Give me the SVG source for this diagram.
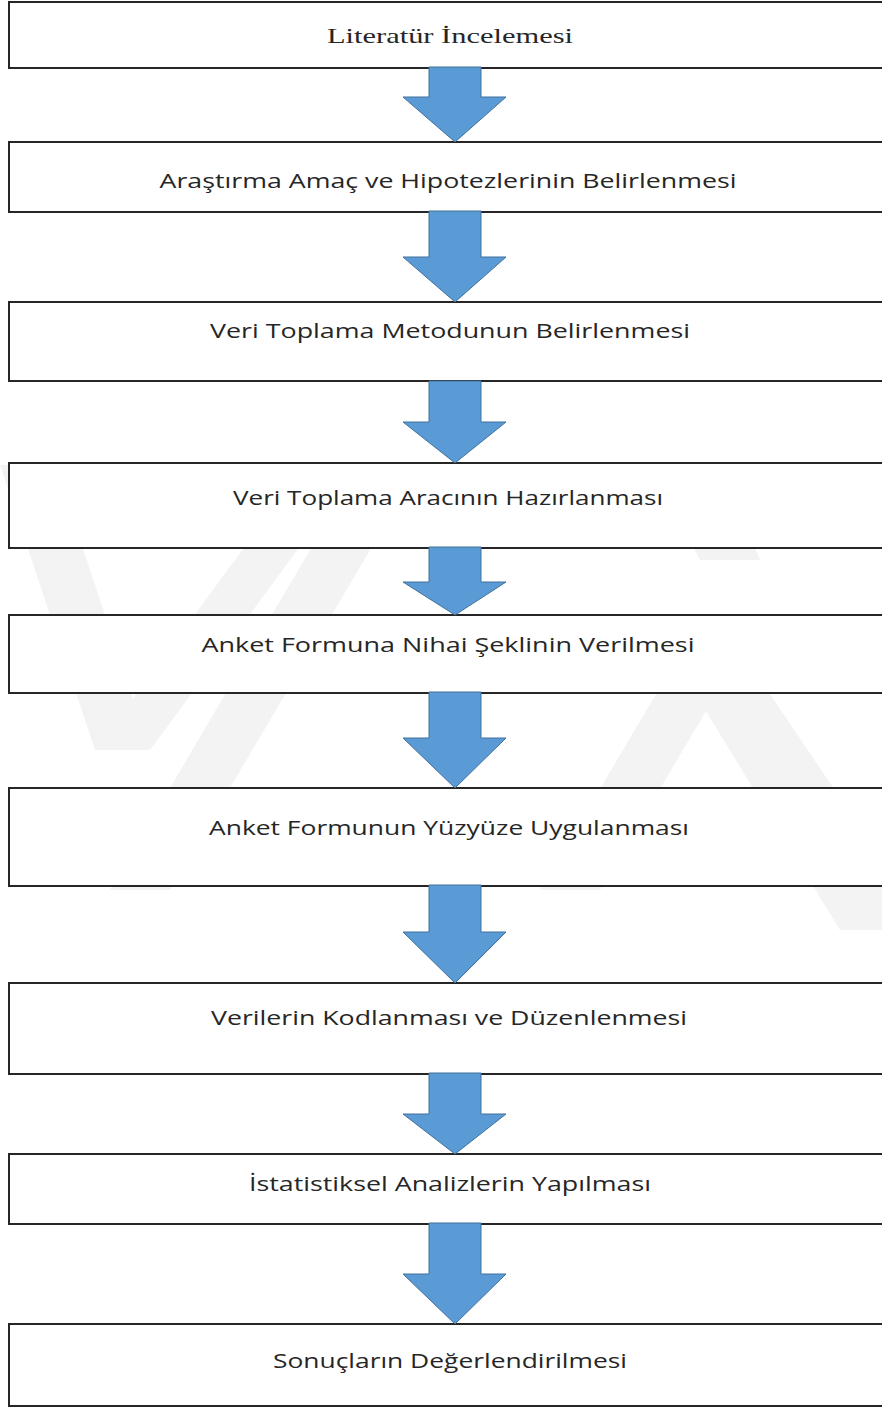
<svg xmlns="http://www.w3.org/2000/svg" width="882" height="1408" viewBox="0 0 882 1408">
<style>
.box{fill:#ffffff;stroke:#262626;stroke-width:2}
.t{font-family:"Open Sans","Noto Sans",sans-serif;font-size:20px;fill:#262626;text-anchor:middle}
.ts{font-family:"Liberation Serif","Times New Roman",serif;font-size:21px;fill:#262626;text-anchor:middle}
.arr{fill:#5b9bd5;stroke:#41719c;stroke-width:1}
.wm{fill:#f3f3f3}
</style>
<rect x="0" y="0" width="882" height="1408" fill="#ffffff"/>
<g id="watermark">
<polygon class="wm" points="0,465 55,465 150,750 95,750"/>
<polygon class="wm" points="95,750 150,750 360,465 305,465"/>
<polygon class="wm" points="110,890 170,890 420,465 360,465"/>
<polygon class="wm" points="540,890 600,890 760,620 700,620"/>
<polygon class="wm" points="650,620 720,620 882,860 882,930 840,930"/>
<polygon class="wm" points="650,465 720,465 760,560 700,560"/>
</g>
<g id="n1"><rect class="box" x="9" y="2" width="890" height="66"/><text class="ts" x="450" y="43" textLength="246" lengthAdjust="spacingAndGlyphs">Literatür  İncelemesi</text></g>
<g id="n2"><rect class="box" x="9" y="142" width="890" height="70"/><text class="t" x="448" y="188" textLength="577" lengthAdjust="spacingAndGlyphs">Araştırma Amaç ve Hipotezlerinin Belirlenmesi</text></g>
<g id="n3"><rect class="box" x="9" y="302" width="890" height="79"/><text class="t" x="450" y="338" textLength="480" lengthAdjust="spacingAndGlyphs">Veri Toplama Metodunun Belirlenmesi</text></g>
<g id="n4"><rect class="box" x="9" y="463" width="890" height="85"/><text class="t" x="448" y="505" textLength="430" lengthAdjust="spacingAndGlyphs">Veri Toplama Aracının Hazırlanması</text></g>
<g id="n5"><rect class="box" x="9" y="615" width="890" height="78"/><text class="t" x="448" y="652" textLength="493" lengthAdjust="spacingAndGlyphs">Anket Formuna Nihai Şeklinin Verilmesi</text></g>
<g id="n6"><rect class="box" x="9" y="788" width="890" height="98"/><text class="t" x="449" y="835" textLength="480" lengthAdjust="spacingAndGlyphs">Anket Formunun  Yüzyüze Uygulanması</text></g>
<g id="n7"><rect class="box" x="9" y="983" width="890" height="91"/><text class="t" x="449" y="1025" textLength="476" lengthAdjust="spacingAndGlyphs">Verilerin Kodlanması ve Düzenlenmesi</text></g>
<g id="n8"><rect class="box" x="9" y="1154" width="890" height="70"/><text class="t" x="450" y="1191" textLength="402" lengthAdjust="spacingAndGlyphs">İstatistiksel Analizlerin Yapılması</text></g>
<g id="n9"><rect class="box" x="9" y="1324" width="890" height="82"/><text class="t" x="450" y="1368" textLength="354" lengthAdjust="spacingAndGlyphs">Sonuçların Değerlendirilmesi</text></g>
<g id="connectors">
<polygon class="arr" points="429,67 481,67 481,97 506,97 455,142 403,97 429,97"/>
<polygon class="arr" points="429,211 481,211 481,257 506,257 455,302 403,257 429,257"/>
<polygon class="arr" points="429,381 481,381 481,422 506,422 455,463 403,422 429,422"/>
<polygon class="arr" points="429,547 481,547 481,582 506,582 455,615 403,582 429,582"/>
<polygon class="arr" points="429,692 481,692 481,738 506,738 455,788 403,738 429,738"/>
<polygon class="arr" points="429,885 481,885 481,932 506,932 455,983 403,932 429,932"/>
<polygon class="arr" points="429,1073 481,1073 481,1114 506,1114 455,1154 403,1114 429,1114"/>
<polygon class="arr" points="429,1223 481,1223 481,1274 506,1274 455,1324 403,1274 429,1274"/>
</g>
</svg>
